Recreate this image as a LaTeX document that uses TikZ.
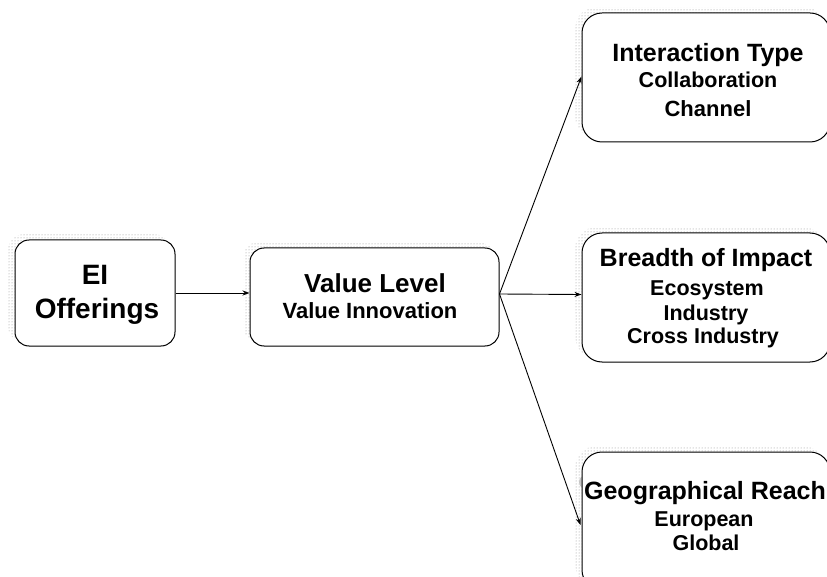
\documentclass[tikz,border=0pt]{standalone}
\usepackage{fontspec}
\setmainfont{Liberation Sans}
\usetikzlibrary{patterns,arrows.meta,backgrounds,calc}
\begin{document}
\begin{tikzpicture}[x=1pt,y=-1pt,
  box/.style={draw=black, line width=1pt, fill=white, inner sep=0pt},
  lbl/.style={anchor=base, inner sep=0pt, font=\fontsize{#1}{#1}\selectfont\bfseries},
  link/.style={draw=black, line width=0.9pt, -{Stealth[length=7pt,width=5pt]}},
  dotshadow/.style={pattern=dots, pattern color=gray!90}]
\useasboundingbox (0,0) rectangle (827,577);
\clip (0,0) rectangle (827,577);

% small grey mark left of the lowest box
\fill[gray!45] (586,482) circle (7);

% boxes
\node[box, rounded corners=14, minimum width=160, minimum height=106] (ei) at (95,293) {};
\node[box, rounded corners=14, minimum width=249, minimum height=98] (vl) at (374.5,297) {};
\node[box, rounded corners=20, minimum width=248, minimum height=129] (it) at (706,77.5) {};
\node[box, rounded corners=20, minimum width=248, minimum height=129] (bi) at (706,297.5) {};
\node[box, rounded corners=20, minimum width=248, minimum height=138] (gr) at (706,521) {};

% dotted shadows peeking out above and left of each box
\begin{scope}[on background layer]
  \foreach \b/\r in {ei/14, vl/14, it/20, bi/20, gr/20}
    \fill[dotshadow, rounded corners=\r]
      ($(\b.north west)+(-6,-5)$) rectangle ($(\b.south east)+(-6,-5)$);
\end{scope}

% labels
\node[lbl=28] (ei1) at (95,285) {EI};
\node[lbl=28] (ei2) at (97,318) {Offerings};

\node[lbl=26] (vl1) at (375,293) {Value Level};
\node[lbl=22] (vl2) at (370,318) {Value Innovation};

\node[lbl=25] (it1) at (708,62) {Interaction Type};
\node[lbl=21.5] (it2) at (708,88) {Collaboration};
\node[lbl=22] (it3) at (708,117) {Channel};

\node[lbl=25] (bi1) at (706,267) {Breadth of Impact};
\node[lbl=21.5] (bi2) at (707,295) {Ecosystem};
\node[lbl=21.5] (bi3) at (706,320) {Industry};
\node[lbl=21.5] (bi4) at (703,343) {Cross Industry};

\node[lbl=25] (gr1) at (705,499) {Geographical Reach};
\node[lbl=21.5] (gr2) at (704,526) {European};
\node[lbl=21.5] (gr3) at (706,550) {Global};

% connectors
\draw[link] (ei.east) -- (vl.west |- ei.east);
\coordinate (fork) at ($(vl.east)+(0,-3)$);
\draw[link] (fork) -- ($(it.west)+(0,-1)$);
\draw[link] (fork) -- ($(bi.west)+(0,-3)$);
\draw[link] (fork) -- ($(gr.west)+(-1,4)$);
\end{tikzpicture}
\end{document}
